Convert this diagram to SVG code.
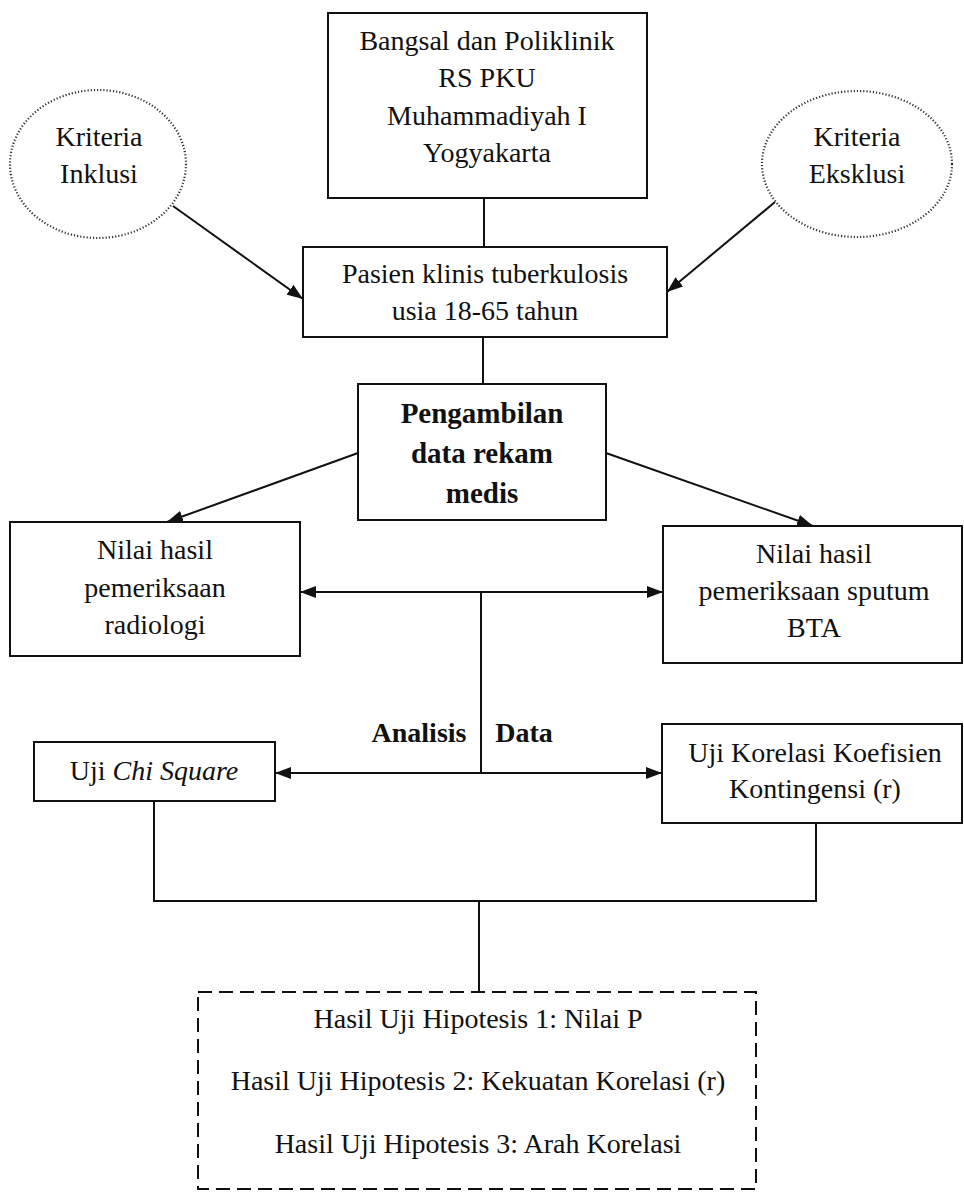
<svg xmlns="http://www.w3.org/2000/svg" width="964" height="1192" viewBox="0 0 964 1192">
<defs>
<style>
.box{fill:#fff;stroke:#111;stroke-width:2}
.ell{fill:#fff;stroke:#333;stroke-width:2.2;stroke-dasharray:1.2 2}
.dash{fill:#fff;stroke:#111;stroke-width:2;stroke-dasharray:14 7}
.ln{fill:none;stroke:#111;stroke-width:2}
.t{font-family:"Liberation Serif","Times New Roman",serif;font-size:28px;fill:#111;text-anchor:middle}
.b{font-weight:bold}
</style>
<marker id="ah" viewBox="0 0 16 12" refX="16" refY="6" markerWidth="16" markerHeight="12" markerUnits="userSpaceOnUse" orient="auto-start-reverse">
<path d="M0,0 L16,6 L0,12 z" fill="#111"/>
</marker>
</defs>
<rect width="964" height="1192" fill="#fff"/>
<g id="connectors">
<line class="ln" x1="484" y1="198" x2="484" y2="247"/>
<line class="ln" x1="483" y1="337" x2="483" y2="384"/>
<line class="ln" x1="173" y1="206" x2="303" y2="299" marker-end="url(#ah)"/>
<line class="ln" x1="775" y1="202" x2="667" y2="292" marker-end="url(#ah)"/>
<line class="ln" x1="358" y1="453" x2="167" y2="522" marker-end="url(#ah)"/>
<line class="ln" x1="606" y1="453" x2="813" y2="526" marker-end="url(#ah)"/>
<line class="ln" x1="300" y1="592" x2="663" y2="592" marker-start="url(#ah)" marker-end="url(#ah)"/>
<line class="ln" x1="481" y1="592" x2="481" y2="773"/>
<line class="ln" x1="275" y1="773" x2="662" y2="773" marker-start="url(#ah)" marker-end="url(#ah)"/>
<path class="ln" d="M154 801 V901 H816 V823"/>
<line class="ln" x1="479" y1="901" x2="479" y2="992"/>
</g>
<g id="bangsal">
<rect class="box" x="328" y="13" width="319" height="185"/>
<text class="t" x="487" y="50">Bangsal dan Poliklinik</text>
<text class="t" x="487" y="87">RS PKU</text>
<text class="t" x="487" y="125">Muhammadiyah I</text>
<text class="t" x="487" y="162">Yogyakarta</text>
</g>
<g id="inklusi">
<ellipse class="ell" cx="98" cy="164" rx="88" ry="74"/>
<text class="t" x="99" y="146">Kriteria</text>
<text class="t" x="99" y="183">Inklusi</text>
</g>
<g id="eksklusi">
<ellipse class="ell" cx="857" cy="164" rx="95" ry="73"/>
<text class="t" x="857" y="146">Kriteria</text>
<text class="t" x="857" y="183">Eksklusi</text>
</g>
<g id="pasien">
<rect class="box" x="303" y="247" width="364" height="90"/>
<text class="t" x="485" y="283">Pasien klinis tuberkulosis</text>
<text class="t" x="485" y="320">usia 18-65 tahun</text>
</g>
<g id="pengambilan">
<rect class="box" x="358" y="384" width="248" height="136"/>
<text class="t b" x="482" y="423" style="font-size:29px">Pengambilan</text>
<text class="t b" x="482" y="463" style="font-size:29px">data rekam</text>
<text class="t b" x="482" y="503" style="font-size:29px">medis</text>
</g>
<g id="radiologi">
<rect class="box" x="10" y="522" width="290" height="134"/>
<text class="t" x="155" y="559">Nilai hasil</text>
<text class="t" x="155" y="597">pemeriksaan</text>
<text class="t" x="155" y="634">radiologi</text>
</g>
<g id="sputum">
<rect class="box" x="663" y="526" width="299" height="137"/>
<text class="t" x="814" y="563">Nilai hasil</text>
<text class="t" x="814" y="600">pemeriksaan sputum</text>
<text class="t" x="814" y="637">BTA</text>
</g>
<g id="analisis-label">
<text class="t b" x="419" y="742">Analisis</text>
<text class="t b" x="524" y="742">Data</text>
</g>
<g id="chisquare">
<rect class="box" x="34" y="742" width="241" height="59"/>
<text class="t" x="154" y="780">Uji <tspan font-style="italic">Chi Square</tspan></text>
</g>
<g id="korelasi">
<rect class="box" x="662" y="724" width="300" height="99"/>
<text class="t" x="815" y="762">Uji Korelasi Koefisien</text>
<text class="t" x="815" y="798">Kontingensi (r)</text>
</g>
<g id="hasil">
<rect class="dash" x="198" y="992" width="558" height="197"/>
<text class="t" x="478" y="1028">Hasil Uji Hipotesis 1: Nilai P</text>
<text class="t" x="478" y="1090">Hasil Uji Hipotesis 2: Kekuatan Korelasi (r)</text>
<text class="t" x="478" y="1153">Hasil Uji Hipotesis 3: Arah Korelasi</text>
</g>
</svg>
